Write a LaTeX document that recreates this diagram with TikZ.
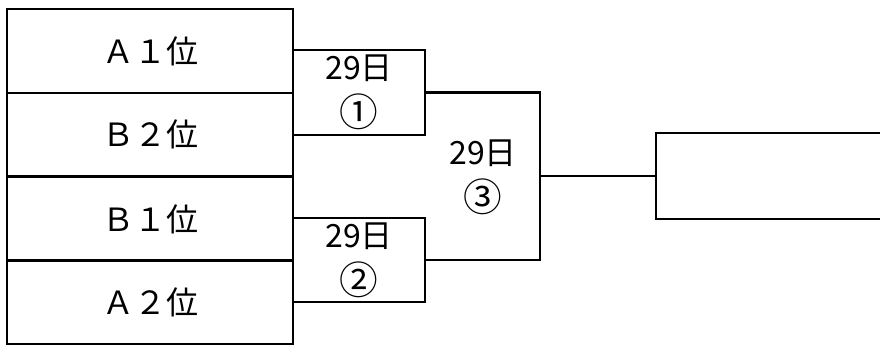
\documentclass[tikz,border=0pt]{standalone}
\usepackage{fontspec}
\setmainfont{Noto Sans CJK JP}
\usepackage{tikz}
\usetikzlibrary{positioning}

\newcommand{\circnum}[1]{{\fontsize{29}{30}\selectfont #1}}

\tikzset{
  seedbox/.style={draw, line width=1.6pt, minimum width=214.5pt, minimum height=62.5pt, inner sep=0pt},
  gamebox/.style={draw, line width=1.6pt, minimum width=99pt, minimum height=63.5pt, inner sep=0pt,
                  align=center, font=\fontsize{24}{30}\selectfont},
}

\begin{document}
\begin{tikzpicture}[x=0.75pt, y=-0.75pt, line width=1.6pt,
                    every node/.style={font=\fontsize{24}{30}\selectfont}]
        \useasboundingbox (0,0) rectangle (880,345);
        % seeds
        \node[seedbox] (a1) at (150,51)    {Ａ１位};
        \node[seedbox] (b2) at (150,134.5) {Ｂ２位};
        \node[seedbox] (b1) at (150,219)   {Ｂ１位};
        \node[seedbox] (a2) at (150,302)   {Ａ２位};
        % first round
        \node[gamebox] (g1) at (359,92.5) {29日\\[5pt]\circnum{①}};
        \node[gamebox] (g2) at (359,260)  {29日\\[5pt]\circnum{②}};
        % final
        \coordinate (j3) at (540,176);
        \draw (g1.east) -| (j3) |- (g2.east);
        \node[align=center] (g3) at (483,177) {29日\\[5pt]\circnum{③}};
        \node[minimum width=180pt, minimum height=63pt, inner sep=0pt] (win) at (777,176) {};
        \draw (win.north east) -- (win.north west) -- (win.south west) -- (win.south east);
        \draw (j3) -- (win.west);
      \end{tikzpicture}
\end{document}
